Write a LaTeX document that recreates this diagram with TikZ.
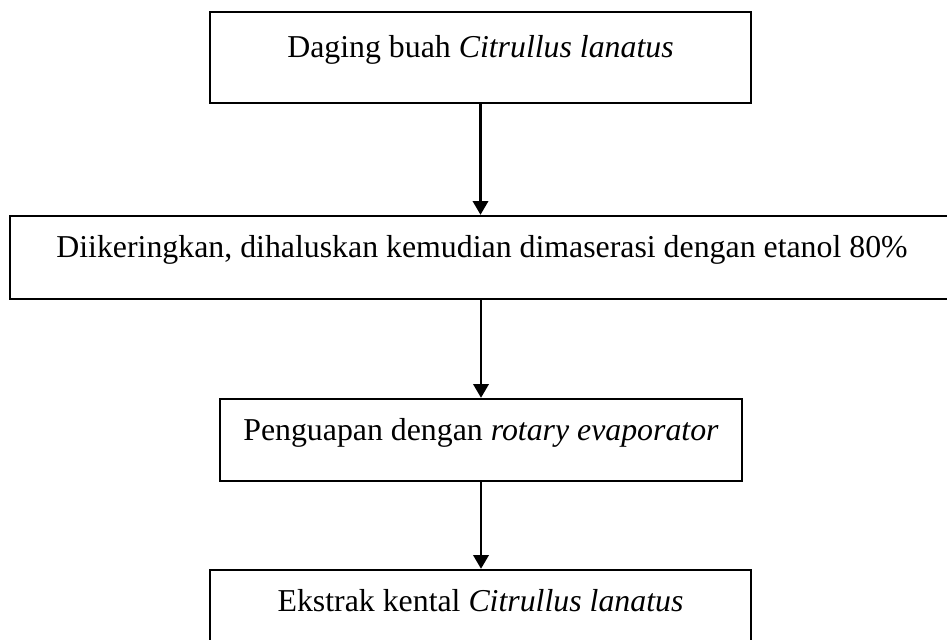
\documentclass[tikz,border=0pt]{standalone}
\usepackage{fontspec}
\setmainfont{Liberation Serif}
\usetikzlibrary{arrows.meta}
\begin{document}
\begin{tikzpicture}[x=0.377pt,y=-0.377pt,line width=0.9pt,
  kotak/.style={draw,rectangle,inner sep=0pt,text height=8pt,text depth=8pt,font=\fontsize{12}{14}\selectfont},
  panah/.style={-{Triangle[length=5.2pt,width=5.8pt]}}]
\useasboundingbox (0,0) rectangle (947,639);
\node[kotak,minimum width=204pt,minimum height=34.3pt] (daging) at (480.5,57.5) {Daging buah \textit{Citrullus lanatus}};
\node[kotak,minimum width=355.9pt,minimum height=31.3pt] (kering) at (482,257.5) {Diikeringkan, dihaluskan kemudian dimaserasi dengan etanol 80\%};
\node[kotak,minimum width=196.8pt,minimum height=30.9pt] (uap) at (481,440) {Penguapan dengan \textit{rotary evaporator}};
\node[kotak,minimum width=204pt,minimum height=30.9pt] (ekstrak) at (480.5,611) {Ekstrak kental \textit{Citrullus lanatus}};
\draw[panah] (daging.south) -- (daging.south |- kering.north);
\draw[panah] (uap.north |- kering.south) -- (uap.north);
\draw[panah] (uap.south) -- (ekstrak.north -| uap.south);
\end{tikzpicture}
\end{document}
